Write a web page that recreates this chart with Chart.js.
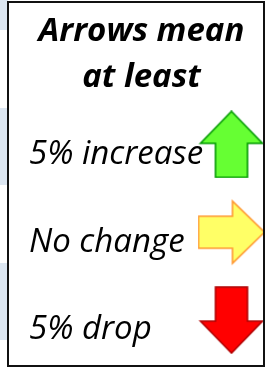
<!DOCTYPE html>
<html>
<head>
<meta charset="utf-8">
<script src="https://cdn.jsdelivr.net/npm/chart.js@4/dist/chart.umd.min.js"></script>
<style>
  html, body { margin: 0; padding: 0; background: #fff; }
  body { width: 271px; height: 368px; position: relative; overflow: hidden; }
  .band { position: absolute; left: 0; width: 8px; background: #dce6f1; }
  #box {
    position: absolute; left: 7px; top: 1px;
    width: 254px; height: 362px;
    border: 2px solid #111; background: #fff;
  }
  canvas { display: block; }
</style>
</head>
<body>
<div class="band" style="top:0;height:30px"></div>
<div class="band" style="top:108px;height:77px"></div>
<div class="band" style="top:263px;height:77px"></div>
<div id="box"><canvas id="legendChart" width="254" height="362"></canvas></div>
<script>
const titleLines = ["Arrows mean", "at least"];
const rows = ["5% increase", "No change", "5% drop"];
const arrowDirections = ["up", "right", "down"];
const arrowColumn = [1, 1, 1];

const arrowColours = {
    up:    { fill: "#66ff33", stroke: "#009a00" },
    right: { fill: "#ffff66", stroke: "#ff9933" },
    down:  { fill: "#ff0000", stroke: "#b00000" }
};

// arrow glyph drawn pointing up, then rotated
function makeArrow(direction) {
    const size = 68;
    const c = document.createElement("canvas");
    c.width = size;
    c.height = size;
    const g = c.getContext("2d");
    const angle = { up: 0, right: Math.PI / 2, down: Math.PI }[direction];
    g.translate(size / 2, size / 2);
    g.rotate(angle);
    const len = 66, headW = 62, headL = 32, shaftW = 32;
    const top = -len / 2, bottom = len / 2, neck = top + headL;
    g.beginPath();
    g.moveTo(0, top);
    g.lineTo(headW / 2, neck);
    g.lineTo(shaftW / 2, neck);
    g.lineTo(shaftW / 2, bottom);
    g.lineTo(-shaftW / 2, bottom);
    g.lineTo(-shaftW / 2, neck);
    g.lineTo(-headW / 2, neck);
    g.closePath();
    g.fillStyle = arrowColours[direction].fill;
    g.fill();
    g.lineWidth = 1.6;
    g.lineJoin = "miter";
    g.strokeStyle = arrowColours[direction].stroke;
    g.stroke();
    return c;
}

const arrowImages = arrowDirections.map(makeArrow);

new Chart(document.getElementById("legendChart"), {
    type: "scatter",
    data: {
        datasets: [{
            data: rows.map((r, i) => ({ x: arrowColumn[i], y: r })),
            pointStyle: ctx => arrowImages[ctx.dataIndex],
            pointRadius: 30,
            clip: false
        }]
    },
    options: {
        responsive: false,
        devicePixelRatio: 1,
        animation: false,
        events: [],
        layout: {
            autoPadding: false,
            padding: { left: 20, right: 9, top: 0, bottom: 1 }
        },
        plugins: {
            legend: { display: false },
            tooltip: { enabled: false },
            title: {
                display: true,
                text: titleLines,
                color: "#000",
                padding: { top: 5, bottom: 0 },
                font: { family: "'Open Sans'", size: 33, style: "italic", weight: "bold", lineHeight: 1.4 }
            }
        },
        scales: {
            x: { type: "linear", min: 0, max: 2, display: false },
            y: {
                type: "category",
                labels: rows,
                offset: true,
                grid: { display: false },
                border: { display: false },
                afterFit: axis => {
                    axis.width = 180;
                    axis.paddingTop = 0;
                    axis.paddingBottom = 0;
                },
                ticks: {
                    crossAlign: "far",
                    labelOffset: 10,
                    color: "#000",
                    font: { family: "'Open Sans'", size: 33, style: "italic" }
                }
            }
        }
    }
});
</script>
</body>
</html>
